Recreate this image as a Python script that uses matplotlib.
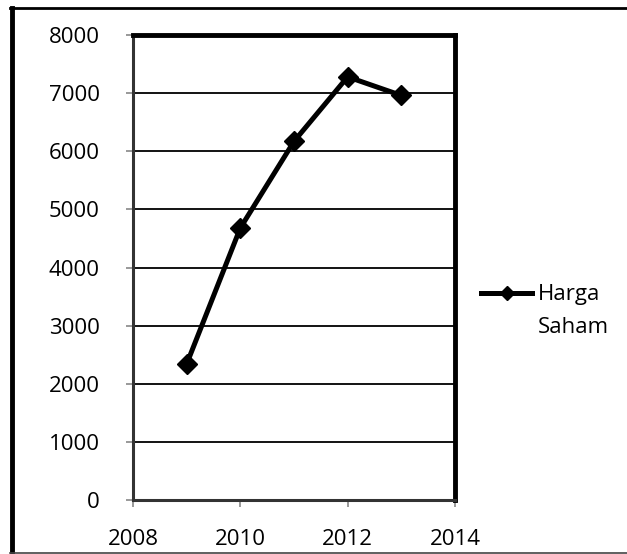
import matplotlib
matplotlib.use("Agg")
import matplotlib.pyplot as plt
from matplotlib.lines import Line2D
from matplotlib.legend_handler import HandlerLine2D
from matplotlib.transforms import Affine2D

# data
tahun = [2009, 2010, 2011, 2012, 2013]
harga_saham = [2340, 4680, 6170, 7280, 6960]
label_seri = "Harga\nSaham"
x_ticks = [2008, 2010, 2012, 2014]
y_ticks = [0, 1000, 2000, 3000, 4000, 5000, 6000, 7000, 8000]

plt.rcParams["font.family"] = ["Open Sans", "DejaVu Sans"]
FS = 16


class HandlerAtas(HandlerLine2D):
    # legend line sits next to the first text line, like Excel does
    def create_artists(self, legend, orig_handle, xdescent, ydescent,
                       width, height, fontsize, trans):
        geser = Affine2D().translate(0, 13) + trans
        return super().create_artists(legend, orig_handle, xdescent, ydescent,
                                      width, height, fontsize, geser)


fig = plt.figure(figsize=(6.27, 5.54), dpi=100)
ax = fig.add_axes([133 / 627, 1 - 500 / 554, 322 / 627, 465 / 554])

garis, = ax.plot(tahun, harga_saham, color="black", lw=3.6, marker="D", ms=10,
                 label=label_seri, solid_joinstyle="miter")

ax.set_xlim(2008, 2014)
ax.set_ylim(0, 8000)
ax.set_xticks(x_ticks)
ax.set_yticks(y_ticks)
ax.tick_params(axis="both", direction="out", length=5, width=1.2,
               color="#888888", labelsize=FS)
ax.tick_params(axis="x", pad=16)
ax.tick_params(axis="y", pad=19)
ax.yaxis.grid(True, color="black", lw=1.3)
ax.set_axisbelow(True)

for side in ["top", "right"]:
    ax.spines[side].set_linewidth(3.5)
    ax.spines[side].set_color("black")
for side in ["left", "bottom"]:
    ax.spines[side].set_linewidth(2.2)
    ax.spines[side].set_color("#333333")

leg = fig.legend(handles=[garis], loc="center left",
                 bbox_to_anchor=(470 / 627, 1 - 311 / 554), frameon=False,
                 fontsize=FS, handlelength=2.3, handletextpad=0.25,
                 borderpad=0, markerscale=0.7,
                 handler_map={garis: HandlerAtas()})
for t in leg.get_texts():
    t.set_linespacing(1.75)

# outer chart border
fig.add_artist(Line2D([12 / 627, 12 / 627], [0, 1 - 8 / 554], color="black", lw=3.5))
fig.add_artist(Line2D([10 / 627, 1], [1 - 8 / 554, 1 - 8 / 554], color="black", lw=2))
fig.add_artist(Line2D([10 / 627, 1], [1.5 / 554, 1.5 / 554], color="#444444", lw=1.2))

fig.savefig("out.png", dpi=100)
